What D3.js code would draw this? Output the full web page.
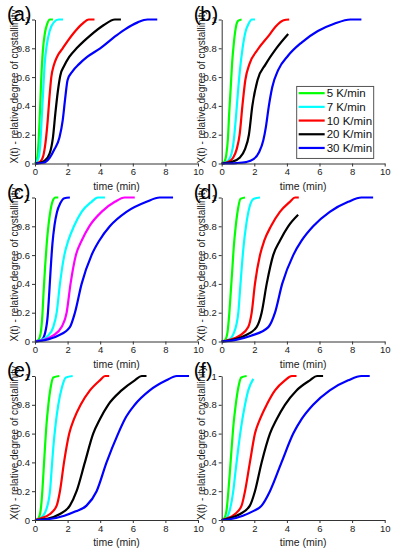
<!DOCTYPE html>
<html>
<head>
<meta charset="utf-8">
<script src="https://cdn.jsdelivr.net/npm/d3@7"></script>
<style>
  body { margin: 0; background: #fff; }
  svg { display: block; font-family: "Liberation Sans", Arial, sans-serif; }
</style>
</head>
<body>
<svg id="chart" width="398" height="550"></svg>
<script>
const panelLabels = ["(a)", "(b)", "(c)", "(d)", "(e)", "(f)"];
const rateLabels = ["5 K/min", "7 K/min", "10 K/min", "20 K/min", "30 K/min"];
const xTicks = [0, 2, 4, 6, 8, 10];
const yTicks = [0, 0.2, 0.4, 0.6, 0.8, 1];

const colorsDefault = ["#00ff00", "#00ffff", "#ff0000", "#000000", "#0000ff"];
const colorsC = ["#00ff00", "#0000ff", "#00ffff", "#ff00ff", "#0000ff"];

// [time (min), X(t)]
const curvesA = [
  [[0,0],[0.12,0.03],[0.22,0.15],[0.3,0.35],[0.38,0.58],[0.48,0.78],[0.6,0.9],[0.75,0.97],[0.92,1],[1.1,1]],
  [[0,0],[0.2,0.03],[0.32,0.13],[0.42,0.33],[0.5,0.5],[0.6,0.7],[0.72,0.82],[0.9,0.92],[1.15,0.98],[1.45,1],[1.72,1]],
  [[0,0],[0.3,0.01],[0.5,0.05],[0.65,0.15],[0.78,0.3],[0.88,0.45],[1.0,0.6],[1.15,0.68],[1.35,0.74],[1.7,0.8],[2.0,0.85],[2.4,0.91],[2.9,0.97],[3.3,1],[3.65,1]],
  [[0,0],[0.3,0.005],[0.6,0.02],[0.9,0.07],[1.1,0.18],[1.25,0.35],[1.4,0.5],[1.55,0.61],[1.8,0.68],[2.1,0.74],[2.55,0.8],[3.0,0.85],[3.4,0.89],[4.2,0.96],[4.9,1],[5.27,1]],
  [[0,0],[0.5,0.005],[0.9,0.04],[1.2,0.1],[1.5,0.18],[1.7,0.3],[1.85,0.45],[2.0,0.58],[2.3,0.64],[2.7,0.69],[3.2,0.74],[4.0,0.8],[5.0,0.89],[5.5,0.93],[6.3,0.98],[6.9,1],[7.5,1]]
];
const curvesB = [
  [[0,0],[0.15,0.01],[0.28,0.06],[0.38,0.17],[0.46,0.35],[0.55,0.52],[0.64,0.7],[0.74,0.83],[0.86,0.94],[1.0,0.99],[1.22,1]],
  [[0,0],[0.3,0.01],[0.55,0.05],[0.75,0.17],[0.88,0.33],[1.0,0.5],[1.12,0.65],[1.28,0.8],[1.45,0.91],[1.65,0.97],[1.85,1],[2.04,1]],
  [[0,0],[0.4,0.01],[0.7,0.04],[0.92,0.1],[1.1,0.2],[1.27,0.4],[1.45,0.58],[1.7,0.69],[2.2,0.79],[2.9,0.89],[3.3,0.95],[3.8,0.995],[4.14,1]],
  [[0,0],[0.6,0.01],[1.1,0.04],[1.43,0.1],[1.67,0.2],[1.88,0.4],[2.2,0.58],[2.7,0.69],[3.35,0.8],[4.08,0.9]],
  [[0,0],[0.9,0.003],[1.5,0.01],[1.95,0.03],[2.3,0.08],[2.55,0.16],[2.72,0.26],[2.88,0.39],[3.1,0.53],[3.47,0.65],[4.08,0.75],[4.9,0.84],[5.9,0.92],[6.9,0.97],[7.9,1],[8.57,1]]
];
const curvesC = [
  [[0,0],[0.2,0.01],[0.35,0.06],[0.45,0.18],[0.53,0.35],[0.62,0.52],[0.72,0.68],[0.83,0.81],[0.95,0.91],[1.1,0.98],[1.25,1],[1.43,1]],
  [[0,0],[0.4,0.01],[0.62,0.06],[0.78,0.18],[0.88,0.35],[0.97,0.52],[1.07,0.68],[1.2,0.81],[1.35,0.9],[1.55,0.96],[1.8,0.995],[2.14,1]],
  [[0,0],[0.4,0.01],[0.8,0.04],[1.12,0.1],[1.33,0.2],[1.53,0.4],[1.8,0.6],[2.04,0.7],[2.39,0.8],[2.86,0.9],[3.47,0.97],[3.85,1],[4.29,1]],
  [[0,0],[0.5,0.01],[1.1,0.04],[1.63,0.1],[1.94,0.2],[2.18,0.4],[2.51,0.6],[2.86,0.7],[3.33,0.8],[4.08,0.9],[4.9,0.97],[5.5,1],[6.12,1]],
  [[0,0],[0.6,0.01],[1.4,0.04],[2.14,0.1],[2.45,0.2],[2.86,0.4],[3.47,0.6],[3.94,0.7],[4.59,0.8],[5.61,0.9],[6.84,0.97],[7.65,1],[8.47,1]]
];
const curvesD = [
  [[0,0],[0.2,0.01],[0.35,0.06],[0.47,0.2],[0.56,0.35],[0.65,0.5],[0.75,0.67],[0.86,0.8],[1.0,0.92],[1.15,0.99],[1.43,1]],
  [[0,0],[0.4,0.01],[0.75,0.06],[1.02,0.2],[1.12,0.35],[1.22,0.5],[1.35,0.67],[1.49,0.8],[1.7,0.93],[1.95,0.99],[2.35,1]],
  [[0,0],[0.4,0.01],[1.1,0.04],[1.63,0.1],[1.84,0.2],[2.04,0.4],[2.35,0.6],[2.61,0.7],[3.02,0.8],[3.57,0.9],[4.18,0.97],[4.5,1],[4.73,1]],
  [[0,0],[0.6,0.01],[1.4,0.04],[2.14,0.1],[2.45,0.2],[2.76,0.4],[3.16,0.6],[3.57,0.7],[4.08,0.8],[4.69,0.88]],
  [[0,0],[0.8,0.01],[1.8,0.04],[2.86,0.1],[3.27,0.2],[3.71,0.4],[4.39,0.6],[4.9,0.7],[5.61,0.8],[6.63,0.9],[7.76,0.97],[8.57,1],[9.29,1]]
];
const curvesE = [
  [[0,0],[0.2,0.01],[0.35,0.07],[0.45,0.2],[0.53,0.35],[0.61,0.5],[0.71,0.67],[0.82,0.8],[0.96,0.92],[1.12,0.99],[1.49,1]],
  [[0,0],[0.3,0.01],[0.65,0.06],[0.92,0.2],[1.02,0.35],[1.12,0.5],[1.27,0.67],[1.43,0.8],[1.65,0.92],[1.9,0.99],[2.31,1]],
  [[0,0],[0.3,0.01],[0.9,0.04],[1.33,0.1],[1.53,0.2],[1.78,0.4],[2.1,0.6],[2.39,0.7],[2.8,0.8],[3.37,0.9],[3.98,0.97],[4.3,1],[4.55,1]],
  [[0,0],[0.8,0.01],[1.5,0.04],[2.14,0.1],[2.55,0.2],[3.06,0.4],[3.57,0.6],[3.98,0.7],[4.49,0.8],[5.31,0.9],[6.12,0.97],[6.55,1],[6.84,1]],
  [[0,0],[0.8,0.005],[1.8,0.03],[2.5,0.06],[3.16,0.1],[3.78,0.2],[4.39,0.4],[5.1,0.6],[5.51,0.7],[6.12,0.8],[7.04,0.9],[8.06,0.97],[8.7,1],[9.45,1]]
];
const curvesF = [
  [[0,0],[0.15,0.01],[0.3,0.07],[0.41,0.2],[0.5,0.33],[0.61,0.5],[0.73,0.67],[0.86,0.8],[1.02,0.92],[1.2,0.99],[1.53,1]],
  [[0,0],[0.25,0.01],[0.5,0.07],[0.71,0.2],[0.86,0.35],[1.02,0.5],[1.2,0.65],[1.43,0.8],[1.63,0.9],[1.94,0.98]],
  [[0,0],[0.3,0.01],[0.8,0.04],[1.22,0.1],[1.43,0.2],[1.73,0.4],[2.04,0.6],[2.35,0.7],[2.76,0.8],[3.27,0.9],[3.88,0.97],[4.3,1],[4.59,1]],
  [[0,0],[0.4,0.01],[1.1,0.04],[1.73,0.1],[2.04,0.2],[2.45,0.4],[2.96,0.6],[3.37,0.7],[3.88,0.8],[4.59,0.9],[5.41,0.97],[5.85,1],[6.22,1]],
  [[0,0],[0.5,0.005],[1.3,0.03],[1.9,0.06],[2.45,0.1],[2.96,0.2],[3.67,0.4],[4.39,0.6],[4.9,0.7],[5.61,0.8],[6.63,0.9],[7.76,0.97],[8.57,1],[9.08,1]]
];

const panels = [
  { label: panelLabels[0], curves: curvesA, colors: colorsDefault },
  { label: panelLabels[1], curves: curvesB, colors: colorsDefault, legend: true },
  { label: panelLabels[2], curves: curvesC, colors: colorsC },
  { label: panelLabels[3], curves: curvesD, colors: colorsDefault },
  { label: panelLabels[4], curves: curvesE, colors: colorsDefault },
  { label: panelLabels[5], curves: curvesF, colors: colorsDefault }
];

const colLeft = [35, 221.7];
const rowTop = [19.5, 197.5, 376];
const plotW = 163;
const plotH = 144;

const svg = d3.select("#chart");

panels.forEach((p, i) => {
  const left = colLeft[i % 2];
  const top = rowTop[Math.floor(i / 2)];

  const x = d3.scaleLinear().domain([0, 10]).range([0, plotW]);
  const y = d3.scaleLinear().domain([0, 1]).range([plotH, 0]);

  const g = svg.append("g").attr("transform", `translate(${left},${top})`);

  const line = d3
    .line()
    .x((d) => x(d[0]))
    .y((d) => y(d[1]))
    .curve(d3.curveMonotoneX);

  g.selectAll("path.curve")
    .data(p.curves)
    .join("path")
    .attr("class", "curve")
    .attr("d", line)
    .attr("fill", "none")
    .attr("stroke", (d, k) => p.colors[k])
    .attr("stroke-width", 2.2);

  const xAxis = g
    .append("g")
    .attr("transform", `translate(0,${plotH})`)
    .call(d3.axisBottom(x).tickValues(xTicks).tickSize(3).tickSizeOuter(0).tickPadding(2));
  const yAxis = g
    .append("g")
    .call(d3.axisLeft(y).tickValues(yTicks).tickSize(3).tickSizeOuter(0).tickPadding(2).tickFormat(d3.format("~g")));

  [xAxis, yAxis].forEach((a) => {
    a.select(".domain").attr("stroke", "#333");
    a.selectAll(".tick line").attr("stroke", "#333");
    a.selectAll(".tick text").attr("fill", "#222").style("font-size", "9.5px");
  });

  g.append("text")
    .attr("x", plotW / 2)
    .attr("y", plotH + 26)
    .attr("text-anchor", "middle")
    .style("font-size", "10.5px")
    .attr("fill", "#222")
    .text("time (min)");

  g.append("text")
    .attr("transform", `translate(-17,${plotH}) rotate(-90)`)
    .attr("text-anchor", "start")
    .style("font-size", "10px")
    .attr("fill", "#222")
    .text("X(t) - relative degree of crystallinity");

  g.append("text")
    .attr("x", -28)
    .attr("y", 1)
    .style("font-size", "20px")
    .attr("fill", "#000")
    .text(p.label);

  if (p.legend) {
    const lg = g.append("g").attr("transform", `translate(${x(4.6)},${y(0.535)})`);
    lg.append("rect")
      .attr("width", 77)
      .attr("height", 72)
      .attr("fill", "#fff")
      .attr("stroke", "#555")
      .attr("stroke-width", 1);
    rateLabels.forEach((lab, k) => {
      const ly = 6.7 + k * 13.7;
      lg.append("line")
        .attr("x1", 2)
        .attr("x2", 28)
        .attr("y1", ly)
        .attr("y2", ly)
        .attr("stroke", p.colors[k])
        .attr("stroke-width", 2.2);
      lg.append("text")
        .attr("x", 30)
        .attr("y", ly + 4)
        .style("font-size", "11.5px")
        .attr("fill", "#111")
        .text(lab);
    });
  }
});
</script>
</body>
</html>
